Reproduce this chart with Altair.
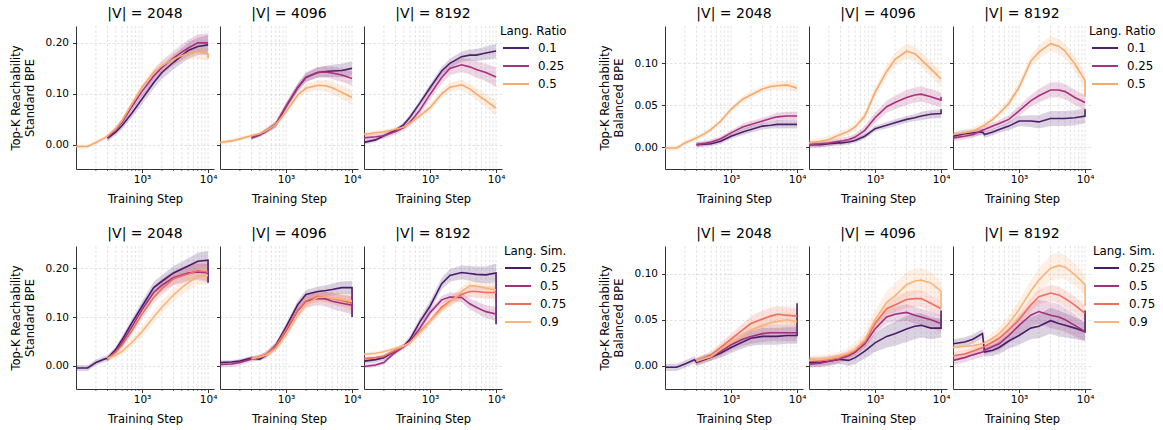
import altair as alt
import pandas as pd

N = None
STEPS = [100, 150, 200, 280, 300, 400, 500, 700, 1000, 1500, 2000, 3000, 4000, 5000, 7000, 10000]
VOCABS = ["2048", "4096", "8192"]

RATIO_LABELS = ["0.1", "0.25", "0.5"]
SIM_LABELS = ["0.25", "0.5", "0.75", "0.9"]
RATIO_COLORS = ["#4e1f6c", "#a9327e", "#f6a96b"]
SIM_COLORS = ["#4a1c6a", "#a2307e", "#ee6e5e", "#f8b47b"]

# Standard BPE, language ratio
STD_RATIO = {
    "2048": {
        "0.1":  [N, N, N, N, 0.013, 0.025, 0.038, 0.062, 0.090, 0.122, 0.142, 0.162, 0.175, 0.185, 0.193, 0.196],
        "0.25": [N, N, N, N, 0.014, 0.030, 0.045, 0.075, 0.105, 0.135, 0.152, 0.170, 0.182, 0.190, 0.200, 0.200],
        "0.5":  [-0.003, -0.003, 0.005, 0.015, 0.018, 0.032, 0.048, 0.080, 0.113, 0.142, 0.155, 0.168, 0.175, 0.180, 0.183, 0.178],
    },
    "4096": {
        "0.1":  [N, N, N, N, 0.014, 0.020, 0.027, 0.040, 0.075, 0.112, 0.132, 0.142, 0.144, 0.145, 0.146, 0.150],
        "0.25": [N, N, N, N, 0.014, 0.020, 0.028, 0.041, 0.076, 0.113, 0.133, 0.142, 0.143, 0.141, 0.137, 0.130],
        "0.5":  [0.005, 0.008, 0.012, 0.017, 0.018, 0.022, 0.028, 0.040, 0.065, 0.098, 0.111, 0.117, 0.116, 0.112, 0.103, 0.093],
    },
    "8192": {
        "0.1":  [0.005, 0.010, 0.018, 0.027, 0.029, 0.040, 0.055, 0.082, 0.112, 0.145, 0.160, 0.173, 0.176, 0.176, 0.180, 0.184],
        "0.25": [0.014, 0.016, 0.018, 0.025, 0.026, 0.034, 0.045, 0.068, 0.099, 0.132, 0.150, 0.157, 0.153, 0.148, 0.142, 0.133],
        "0.5":  [0.021, 0.024, 0.026, 0.030, 0.031, 0.035, 0.043, 0.057, 0.073, 0.100, 0.113, 0.118, 0.110, 0.100, 0.087, 0.072],
    },
}

# Balanced BPE, language ratio
BAL_RATIO = {
    "2048": {
        "0.1":  [N, N, N, N, 0.003, 0.0035, 0.004, 0.007, 0.013, 0.018, 0.021, 0.025, 0.026, 0.027, 0.027, 0.027],
        "0.25": [N, N, N, N, 0.003, 0.0045, 0.006, 0.010, 0.017, 0.024, 0.027, 0.031, 0.034, 0.036, 0.037, 0.037],
        "0.5":  [-0.001, -0.001, 0.005, 0.010, 0.011, 0.016, 0.021, 0.031, 0.045, 0.057, 0.062, 0.069, 0.072, 0.073, 0.074, 0.070],
    },
    "4096": {
        "0.1":  [0.003, 0.003, 0.004, 0.005, 0.005, 0.006, 0.008, 0.013, 0.022, 0.026, 0.029, 0.033, 0.035, 0.037, 0.039, 0.040],
        "0.25": [0.003, 0.004, 0.005, 0.007, 0.007, 0.009, 0.012, 0.020, 0.035, 0.048, 0.053, 0.059, 0.062, 0.063, 0.060, 0.056],
        "0.5":  [0.005, 0.007, 0.009, 0.014, 0.015, 0.019, 0.024, 0.037, 0.065, 0.090, 0.104, 0.114, 0.111, 0.104, 0.093, 0.081],
    },
    "8192": {
        "0.1":  [0.013, 0.016, 0.017, 0.018, 0.015, 0.018, 0.021, 0.025, 0.031, 0.031, 0.030, 0.034, 0.034, 0.034, 0.035, 0.037],
        "0.25": [0.011, 0.013, 0.015, 0.020, 0.021, 0.025, 0.028, 0.033, 0.043, 0.055, 0.061, 0.068, 0.068, 0.066, 0.059, 0.053],
        "0.5":  [0.015, 0.017, 0.019, 0.025, 0.026, 0.033, 0.040, 0.052, 0.071, 0.102, 0.113, 0.123, 0.120, 0.114, 0.099, 0.079],
    },
}

# Standard BPE, language similarity
STD_SIM = {
    "2048": {
        "0.25": [-0.004, -0.004, 0.007, 0.015, 0.015, 0.034, 0.054, 0.088, 0.122, 0.160, 0.173, 0.190, 0.198, 0.204, 0.214, 0.216],
        "0.5":  [N, N, N, N, 0.015, 0.030, 0.048, 0.080, 0.115, 0.150, 0.165, 0.180, 0.186, 0.190, 0.192, 0.190],
        "0.75": [N, N, N, N, 0.015, 0.028, 0.043, 0.072, 0.106, 0.140, 0.158, 0.178, 0.184, 0.188, 0.195, 0.192],
        "0.9":  [N, N, N, N, 0.015, 0.022, 0.030, 0.048, 0.070, 0.100, 0.120, 0.145, 0.160, 0.170, 0.183, 0.185],
    },
    "4096": {
        "0.25": [0.007, 0.008, 0.010, 0.015, 0.016, 0.014, 0.022, 0.042, 0.080, 0.125, 0.146, 0.152, 0.154, 0.156, 0.160, 0.160],
        "0.5":  [0.003, 0.004, 0.007, 0.013, 0.014, 0.018, 0.023, 0.040, 0.072, 0.113, 0.132, 0.138, 0.137, 0.132, 0.128, 0.124],
        "0.75": [N, N, N, N, 0.015, 0.019, 0.024, 0.040, 0.074, 0.114, 0.133, 0.142, 0.141, 0.138, 0.134, 0.128],
        "0.9":  [N, N, N, N, 0.015, 0.018, 0.022, 0.035, 0.063, 0.103, 0.126, 0.140, 0.141, 0.139, 0.136, 0.133],
    },
    "8192": {
        "0.25": [0.010, 0.013, 0.017, 0.029, 0.031, 0.040, 0.055, 0.090, 0.122, 0.168, 0.185, 0.191, 0.189, 0.187, 0.186, 0.190],
        "0.5":  [-0.001, 0.002, 0.007, 0.025, 0.028, 0.040, 0.050, 0.077, 0.109, 0.135, 0.141, 0.140, 0.127, 0.120, 0.111, 0.106],
        "0.75": [0.015, 0.017, 0.020, 0.030, 0.032, 0.040, 0.048, 0.070, 0.092, 0.120, 0.132, 0.146, 0.152, 0.152, 0.150, 0.150],
        "0.9":  [0.024, 0.026, 0.029, 0.035, 0.036, 0.041, 0.048, 0.068, 0.091, 0.116, 0.130, 0.152, 0.164, 0.163, 0.159, 0.155],
    },
}

# Balanced BPE, language similarity
BAL_SIM = {
    "2048": {
        "0.25": [-0.0015, -0.0015, 0.002, 0.0066, 0.004, 0.007, 0.0095, 0.014, 0.020, 0.026, 0.030, 0.032, 0.032, 0.032, 0.033, 0.033],
        "0.5":  [N, N, N, N, 0.005, 0.008, 0.010, 0.016, 0.023, 0.029, 0.032, 0.035, 0.036, 0.036, 0.036, 0.036],
        "0.75": [N, N, N, N, 0.005, 0.009, 0.012, 0.020, 0.029, 0.039, 0.046, 0.051, 0.054, 0.056, 0.055, 0.054],
        "0.9":  [N, N, N, N, 0.005, 0.008, 0.010, 0.018, 0.025, 0.033, 0.039, 0.044, 0.047, 0.048, 0.050, 0.048],
    },
    "4096": {
        "0.25": [0.004, 0.004, 0.005, 0.007, 0.007, 0.006, 0.009, 0.016, 0.025, 0.032, 0.035, 0.040, 0.043, 0.044, 0.041, 0.041],
        "0.5":  [0.002, 0.003, 0.005, 0.007, 0.008, 0.011, 0.015, 0.024, 0.040, 0.053, 0.056, 0.058, 0.055, 0.053, 0.050, 0.046],
        "0.75": [0.006, 0.006, 0.007, 0.009, 0.010, 0.013, 0.017, 0.026, 0.046, 0.062, 0.066, 0.072, 0.073, 0.073, 0.068, 0.062],
        "0.9":  [0.006, 0.007, 0.008, 0.010, 0.011, 0.014, 0.018, 0.028, 0.050, 0.069, 0.076, 0.088, 0.092, 0.093, 0.090, 0.081],
    },
    "8192": {
        "0.25": [0.024, 0.026, 0.029, 0.035, 0.015, 0.017, 0.020, 0.027, 0.033, 0.041, 0.043, 0.049, 0.046, 0.044, 0.041, 0.037],
        "0.5":  [0.006, 0.009, 0.012, 0.015, 0.017, 0.021, 0.024, 0.033, 0.044, 0.055, 0.059, 0.055, 0.053, 0.050, 0.044, 0.037],
        "0.75": [0.011, 0.013, 0.016, 0.020, 0.021, 0.026, 0.030, 0.039, 0.050, 0.066, 0.075, 0.079, 0.077, 0.073, 0.066, 0.057],
        "0.9":  [0.020, 0.021, 0.022, 0.024, 0.025, 0.030, 0.035, 0.046, 0.061, 0.081, 0.093, 0.106, 0.109, 0.107, 0.099, 0.088],
    },
}

# last-step jumps seen at 10^4
END_JUMP = {
    ("std_ratio", "2048", "0.5"): 0.170,
    ("bal_ratio", "4096", "0.1"): 0.045,
    ("bal_ratio", "4096", "0.25"): 0.060,
    ("bal_ratio", "8192", "0.1"): 0.045,
    ("bal_ratio", "8192", "0.5"): 0.060,
    ("std_sim", "2048", "0.25"): 0.170,
    ("std_sim", "4096", "0.25"): 0.100,
    ("std_sim", "4096", "0.5"): 0.115,
    ("std_sim", "8192", "0.25"): 0.085,
    ("bal_sim", "2048", "0.25"): 0.068,
    ("bal_sim", "4096", "0.25"): 0.060,
    ("bal_sim", "4096", "0.9"): 0.062,
    ("bal_sim", "8192", "0.25"): 0.060,
    ("bal_sim", "8192", "0.9"): 0.065,
}

# band half-widths (estimated)
SP = {
    "SP1": [0.004, 0.004, 0.004, 0.004, 0.004, 0.004, 0.005, 0.006, 0.007, 0.008, 0.009, 0.010, 0.011, 0.012, 0.013, 0.014],
    "SP2": [0.006, 0.006, 0.006, 0.006, 0.006, 0.006, 0.007, 0.008, 0.010, 0.012, 0.013, 0.014, 0.015, 0.016, 0.017, 0.019],
    "SP3": [0.003, 0.003, 0.003, 0.003, 0.003, 0.003, 0.003, 0.003, 0.003, 0.004, 0.004, 0.004, 0.004, 0.005, 0.005, 0.005],
    "SP4": [0.004, 0.004, 0.004, 0.004, 0.004, 0.004, 0.004, 0.005, 0.006, 0.007, 0.008, 0.009, 0.009, 0.009, 0.009, 0.009],
    "SP5": [0.005, 0.005, 0.005, 0.005, 0.005, 0.006, 0.007, 0.008, 0.010, 0.012, 0.013, 0.014, 0.014, 0.013, 0.012, 0.010],
}
SPREADS = {
    ("std_ratio", "2048"): ["SP2", "SP2", "SP1"],
    ("std_ratio", "4096"): ["SP1", "SP1", "SP1"],
    ("std_ratio", "8192"): ["SP1", "SP2", "SP1"],
    ("bal_ratio", "2048"): ["SP3", "SP3", "SP3"],
    ("bal_ratio", "4096"): ["SP3", "SP4", "SP4"],
    ("bal_ratio", "8192"): ["SP4", "SP4", "SP4"],
    ("std_sim", "2048"): ["SP2", "SP2", "SP2", "SP2"],
    ("std_sim", "4096"): ["SP1", "SP2", "SP1", "SP1"],
    ("std_sim", "8192"): ["SP2", "SP1", "SP1", "SP1"],
    ("bal_sim", "2048"): ["SP4", "SP4", "SP4", "SP4"],
    ("bal_sim", "4096"): ["SP5", "SP4", "SP4", "SP5"],
    ("bal_sim", "8192"): ["SP5", "SP5", "SP4", "SP5"],
}

GRID_STEPS = [200, 300, 400, 500, 600, 700, 800, 900, 1000,
              2000, 3000, 4000, 5000, 6000, 7000, 8000, 9000, 10000]
MINOR_STEPS = [200, 300, 400, 500, 600, 700, 800, 900,
               2000, 3000, 4000, 5000, 6000, 7000, 8000, 9000]

W, H = 138, 143
XDOM = [100, 12300]
FONT = "DejaVu Sans"
GRIDC = "#d6d6d6"


def make_panel(key, data, labels, colors, vocab, ytitle, ydom, yvals, first):
    rows, lrows = [], []
    spreads = SPREADS[(key, vocab)]
    for si, (lab, col) in enumerate(zip(labels, colors)):
        vals = data[vocab][lab]
        sp = SP[spreads[si]]
        for k, (s, v) in enumerate(zip(STEPS, vals)):
            if v is None:
                continue
            rows.append(dict(series=lab, col=col, step=s, lo=v - sp[k], hi=v + sp[k]))
            lrows.append(dict(series=lab, col=col, step=s, mean=v, idx=k))
        if (key, vocab, lab) in END_JUMP:
            lrows.append(dict(series=lab, col=col, step=STEPS[-1],
                              mean=END_JUMP[(key, vocab, lab)], idx=len(STEPS)))
    df = pd.DataFrame(rows)
    ldf = pd.DataFrame(lrows)

    xs = alt.Scale(type="log", domain=XDOM)
    xaxis = alt.Axis(values=[1000, 10000],
                     labelExpr="datum.value == 1000 ? '10³' : '10⁴'",
                     title="Training Step", grid=False, tickSize=3.5,
                     labelFontSize=10.5, titleFontSize=11.5, labelPadding=2,
                     titlePadding=8)
    ys = alt.Scale(domain=ydom, nice=False, zero=False)
    yargs = dict(values=yvals, format=".2f", grid=True, gridDash=[2.5, 2],
                 gridColor=GRIDC, gridWidth=0.7, tickSize=3.5, labels=first,
                 labelFontSize=10.5, labelPadding=4)
    if first:
        yargs.update(title=ytitle, titleFontSize=11.5, titleLineHeight=14, titlePadding=10)
    else:
        yargs.update(title=None)
    yaxis = alt.Axis(**yargs)
    X = alt.X("step:Q", scale=xs, axis=xaxis)

    grid = alt.Chart(pd.DataFrame({"step": GRID_STEPS})).mark_rule(
        strokeDash=[2.5, 2], color=GRIDC, strokeWidth=0.7
    ).encode(x=X, y=alt.value(0), y2=alt.value(H))
    minor = alt.Chart(pd.DataFrame({"step": MINOR_STEPS})).mark_rule(
        color="#333333", strokeWidth=0.7, clip=False
    ).encode(x=X, y=alt.value(H), y2=alt.value(H + 2))
    band = alt.Chart(df).mark_area(opacity=0.2, clip=True).encode(
        x=X, y=alt.Y("lo:Q", scale=ys, axis=yaxis), y2="hi:Q",
        color=alt.Color("col:N", scale=None), detail="series:N")
    line = alt.Chart(ldf).mark_line(strokeWidth=1.6, clip=True).encode(
        x=X, y=alt.Y("mean:Q", scale=ys, axis=yaxis),
        color=alt.Color("col:N", scale=None), detail="series:N",
        order=alt.Order("idx:Q"))
    return alt.layer(grid, minor, band, line).properties(
        width=W, height=H,
        title=alt.TitleParams(text=f"|V| = {vocab}", fontSize=14, offset=5,
                              fontWeight="normal", color="black", font=FONT))


def make_legend(title, labels, colors, width, tx, lx0, lx1, labx):
    layers = [alt.Chart(pd.DataFrame({"t": [title]})).mark_text(
        align="left", baseline="middle", fontSize=11.8, font=FONT, color="black"
    ).encode(x=alt.value(tx), y=alt.value(5), text="t:N")]
    for i, (lab, col) in enumerate(zip(labels, colors)):
        d = pd.DataFrame({"t": [lab]})
        yy = 22 + 18 * i
        layers.append(alt.Chart(d).mark_rule(color=col, strokeWidth=2).encode(
            x=alt.value(lx0), x2=alt.value(lx1), y=alt.value(yy)))
        layers.append(alt.Chart(d).mark_text(
            align="left", baseline="middle", fontSize=11.8, font=FONT, color="black"
        ).encode(x=alt.value(labx), y=alt.value(yy), text="t:N"))
    return alt.layer(*layers).properties(width=width, height=H)


GROUPS = {
    "std_ratio": (STD_RATIO, RATIO_LABELS, RATIO_COLORS, ["Top-K Reachability", "Standard BPE"], [-0.047, 0.233], [0, 0.1, 0.2]),
    "bal_ratio": (BAL_RATIO, RATIO_LABELS, RATIO_COLORS, ["Top-K Reachability", "Balanced BPE"], [-0.026, 0.144], [0, 0.05, 0.1]),
    "std_sim": (STD_SIM, SIM_LABELS, SIM_COLORS, ["Top-K Reachability", "Standard BPE"], [-0.047, 0.245], [0, 0.1, 0.2]),
    "bal_sim": (BAL_SIM, SIM_LABELS, SIM_COLORS, ["Top-K Reachability", "Balanced BPE"], [-0.025, 0.130], [0, 0.05, 0.1]),
}


def group_panels(key):
    data, labels, colors, ytitle, ydom, yvals = GROUPS[key]
    return [make_panel(key, data, labels, colors, v, ytitle, ydom, yvals, i == 0)
            for i, v in enumerate(VOCABS)]


cells = []
cells += group_panels("std_ratio")
cells.append(make_legend("Lang. Ratio", RATIO_LABELS, RATIO_COLORS, 151, -8, -5, 21, 30))
cells += group_panels("bal_ratio")
cells.append(make_legend("Lang. Ratio", RATIO_LABELS, RATIO_COLORS, 60, -8, -5, 21, 30))
cells += group_panels("std_sim")
cells.append(make_legend("Lang. Sim.", SIM_LABELS, SIM_COLORS, 151, -4, -3, 23, 32))
cells += group_panels("bal_sim")
cells.append(make_legend("Lang. Sim.", SIM_LABELS, SIM_COLORS, 60, -4, -3, 22, 32))

chart = alt.concat(
    *cells, columns=8, spacing=alt.RowColnumber(row=77, column=6), bounds="flush"
).resolve_scale(x="independent", y="independent").properties(
    padding={"left": 10, "top": 6, "right": 0, "bottom": 0}
).configure_view(stroke=None).configure_axis(
    labelColor="black", titleColor="black", domainColor="#333333",
    tickColor="#333333", labelFont=FONT, titleFont=FONT,
    titleFontWeight="normal", domainWidth=1, tickWidth=1
).configure_title(font=FONT, fontWeight="normal")

chart.save("out.html", embed_options={"renderer": "svg", "actions": False})
